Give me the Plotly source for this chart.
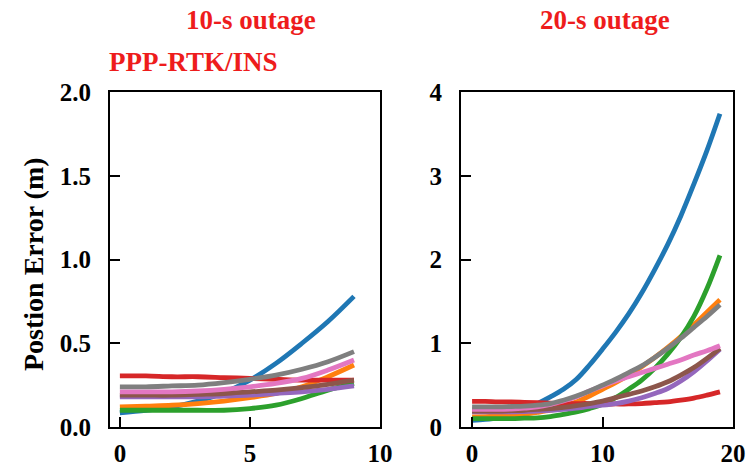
import plotly.graph_objects as go

W, H = 756, 466


def fx(px):
    return px / W


def fy(py):
    return 1 - py / H


# ---- data ----
t10 = list(range(10))
t20 = list(range(20))
colors = ["#1f77b4", "#ff7f0e", "#2ca02c", "#d62728", "#9467bd", "#8c564b", "#e377c2", "#7f7f7f"]
names = ["blue", "orange", "green", "red", "purple", "brown", "pink", "gray"]

err10_blue = [0.085, 0.10, 0.12, 0.155, 0.205, 0.28, 0.38, 0.50, 0.63, 0.78]
err10_orange = [0.12, 0.125, 0.13, 0.14, 0.155, 0.175, 0.20, 0.24, 0.30, 0.37]
err10_green = [0.10, 0.10, 0.10, 0.10, 0.10, 0.11, 0.13, 0.17, 0.22, 0.26]
err10_red = [0.305, 0.305, 0.30, 0.30, 0.295, 0.29, 0.285, 0.28, 0.28, 0.28]
err10_purple = [0.18, 0.18, 0.18, 0.18, 0.185, 0.19, 0.20, 0.21, 0.225, 0.245]
err10_brown = [0.19, 0.19, 0.19, 0.195, 0.20, 0.21, 0.22, 0.235, 0.255, 0.28]
err10_pink = [0.21, 0.21, 0.21, 0.215, 0.225, 0.24, 0.26, 0.29, 0.34, 0.40]
err10_gray = [0.24, 0.24, 0.245, 0.25, 0.265, 0.285, 0.31, 0.345, 0.39, 0.45]

err20_blue = [0.08, 0.09, 0.11, 0.15, 0.21, 0.28, 0.36, 0.45, 0.57, 0.74,
              0.93, 1.13, 1.35, 1.60, 1.88, 2.18, 2.52, 2.90, 3.30, 3.74]
err20_orange = [0.12, 0.125, 0.13, 0.14, 0.155, 0.175, 0.20, 0.24, 0.30, 0.37,
                0.45, 0.53, 0.62, 0.72, 0.83, 0.95, 1.08, 1.22, 1.37, 1.52]
err20_green = [0.10, 0.10, 0.10, 0.10, 0.105, 0.11, 0.125, 0.15, 0.18, 0.22,
               0.27, 0.35, 0.45, 0.56, 0.70, 0.87, 1.07, 1.32, 1.65, 2.05]
err20_red = [0.305, 0.305, 0.30, 0.30, 0.295, 0.29, 0.285, 0.28, 0.28, 0.28,
             0.275, 0.275, 0.275, 0.28, 0.29, 0.30, 0.32, 0.345, 0.38, 0.42]
err20_purple = [0.18, 0.18, 0.18, 0.18, 0.185, 0.19, 0.20, 0.21, 0.225, 0.245,
                0.26, 0.28, 0.31, 0.35, 0.40, 0.46, 0.55, 0.66, 0.79, 0.93]
err20_brown = [0.19, 0.19, 0.19, 0.195, 0.20, 0.21, 0.22, 0.235, 0.255, 0.28,
               0.31, 0.35, 0.39, 0.43, 0.48, 0.54, 0.62, 0.71, 0.82, 0.94]
err20_pink = [0.21, 0.21, 0.21, 0.215, 0.225, 0.24, 0.27, 0.31, 0.36, 0.43,
              0.49, 0.55, 0.60, 0.65, 0.70, 0.75, 0.80, 0.86, 0.91, 0.97]
err20_gray = [0.24, 0.24, 0.24, 0.245, 0.25, 0.26, 0.28, 0.32, 0.37, 0.43,
              0.50, 0.57, 0.65, 0.73, 0.83, 0.94, 1.06, 1.19, 1.32, 1.46]

series10 = [err10_blue, err10_orange, err10_green, err10_red, err10_purple, err10_brown, err10_pink, err10_gray]
series20 = [err20_blue, err20_orange, err20_green, err20_red, err20_purple, err20_brown, err20_pink, err20_gray]

ytick10 = [0.0, 0.5, 1.0, 1.5, 2.0]
ytick10_text = ["0.0", "0.5", "1.0", "1.5", "2.0"]
ytick20 = [0, 1, 2, 3, 4]
xtick10 = [0, 5, 10]
xtick20 = [0, 10, 20]

# ---- figure ----
fig = go.Figure()
for c, n, y in zip(colors, names, series10):
    fig.add_trace(go.Scatter(x=t10, y=y, mode="lines", name=n, line=dict(color=c, width=4.8, shape="spline"),
                             xaxis="x", yaxis="y", showlegend=False))
for c, n, y in zip(colors, names, series20):
    fig.add_trace(go.Scatter(x=t20, y=y, mode="lines", name=n, line=dict(color=c, width=4.8, shape="spline"),
                             xaxis="x2", yaxis="y2", showlegend=False))

font_serif = "Liberation Serif, Times New Roman, serif"
tickfont = dict(family=font_serif, size=25, color="black", weight="bold")
axis_common = dict(showline=True, mirror=True, linecolor="black", linewidth=2,
                   ticks="inside", ticklen=10, tickwidth=2, tickcolor="black",
                   showgrid=False, zeroline=False, tickfont=tickfont, automargin=False)

ybot, ytop = fy(427), fy(92)
fig.update_layout(
    width=W, height=H,
    margin=dict(l=0, r=0, t=0, b=0, autoexpand=False),
    paper_bgcolor="white", plot_bgcolor="white",
    xaxis=dict(domain=[fx(110), fx(380)], range=[-0.38, 10], tickvals=xtick10, anchor="y",
               ticklabelstandoff=3, **axis_common),
    yaxis=dict(domain=[ybot, ytop], range=[0, 2.0], tickvals=ytick10, ticktext=ytick10_text, anchor="x",
               ticklabelstandoff=12, **axis_common),
    xaxis2=dict(domain=[fx(461), fx(733)], range=[-0.85, 20], tickvals=xtick20, anchor="y2",
                ticklabelstandoff=3, **axis_common),
    yaxis2=dict(domain=[ybot, ytop], range=[0, 4], tickvals=ytick20, anchor="x2",
                ticklabelstandoff=12, **axis_common),
)

title_font = dict(family=font_serif, size=27, color="#ee1c1c", weight="bold")
fig.add_annotation(text="10-s outage", xref="paper", yref="paper", x=fx(251), y=fy(20),
                   showarrow=False, font=title_font, xanchor="center", yanchor="middle")
fig.add_annotation(text="20-s outage", xref="paper", yref="paper", x=fx(605), y=fy(20),
                   showarrow=False, font=title_font, xanchor="center", yanchor="middle")
fig.add_annotation(text="PPP-RTK/INS", xref="paper", yref="paper", x=fx(193), y=fy(62),
                   showarrow=False, font=title_font, xanchor="center", yanchor="middle")
fig.add_annotation(text="Postion Error (m)", xref="paper", yref="paper", x=fx(33), y=fy(264),
                   showarrow=False, textangle=-90,
                   font=dict(family=font_serif, size=28, color="black", weight="bold"),
                   xanchor="center", yanchor="middle")

fig.write_html("out.html",
               config={"displayModeBar": False, "staticPlot": True},
               post_script="document.body.style.margin='0';document.body.style.overflow='hidden';"
                           "document.documentElement.style.overflow='hidden';")
